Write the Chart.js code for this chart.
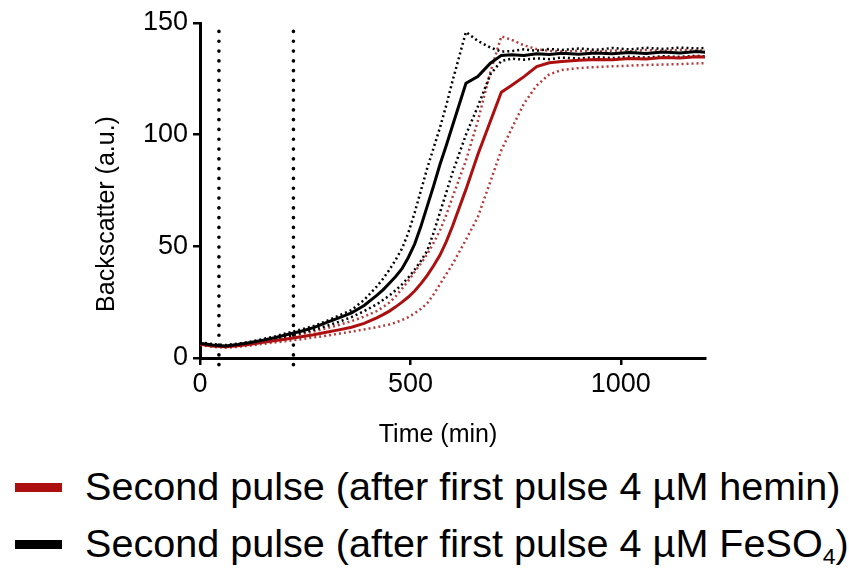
<!DOCTYPE html>
<html>
<head>
<meta charset="utf-8">
<script src="https://cdn.jsdelivr.net/npm/chart.js@4.4.0/dist/chart.umd.min.js"></script>
<style>
  body { margin: 0; background: #fff; font-family: "Liberation Sans", Arial, sans-serif; }
  #wrap { position: relative; width: 849px; height: 570px; }
  #chart { position: absolute; left: 0; top: 0; }
  #legend { position: absolute; left: 0; top: 461px; }
  .item { position: relative; height: 57px; font-size: 39.6px; color: #000; white-space: nowrap; }
  .swatch { position: absolute; left: 15px; top: 22px; width: 47px; height: 9px; }
  .label { position: absolute; left: 85px; top: 3px; }
  .label sub { font-size: 58%; vertical-align: -0.3em; line-height: 0; }
</style>
</head>
<body>
<div id="wrap">
  <canvas id="chart" width="849" height="460"></canvas>
  <div id="legend"></div>
</div>
<script>
// Time points (min)
const times = [0, 30, 60, 90, 120, 150, 180, 210, 240, 270, 300, 330, 360, 390,
  420, 435, 450, 465, 480, 495, 510, 525, 540, 555, 570, 585, 600,
  632, 660, 690, 716, 740, 770, 800, 830, 860, 900, 940, 980, 1020, 1060, 1100, 1140, 1180, 1200];

// FeSO4 first pulse: mean and +/- SD
const feMean = [6.6, 5.8, 5.4, 6.0, 6.9, 8.0, 9.2, 10.6, 12.0, 13.6, 15.8, 18.0, 20.2, 23.5,
  28.0, 30.5, 33.5, 36.5, 40.0, 45.0, 51.0, 59.0, 68.0, 77.0, 86.5, 95.0, 104.0,
  123.0, 126.0, 132.0, 135.5, 135.8, 135.4, 136.2, 135.9, 136.4, 136.0, 136.6, 136.2, 136.8, 136.4, 137.0, 136.6, 137.2, 136.9];
const feUpper = [7.0, 6.2, 5.8, 6.4, 7.3, 8.5, 9.8, 11.3, 12.8, 14.3, 16.5, 19.0, 21.5, 26.0,
  32.0, 35.5, 39.5, 44.0, 49.0, 56.0, 65.0, 75.0, 85.0, 94.0, 103.0, 113.0, 124.0,
  146.0, 142.0, 139.0, 137.2, 137.4, 138.2, 137.6, 138.4, 137.9, 138.6, 138.0, 138.8, 138.2, 138.9, 138.4, 139.0, 138.6, 138.8];
const feLower = [6.2, 5.4, 5.0, 5.6, 6.4, 7.4, 8.6, 9.8, 11.2, 12.6, 14.3, 16.2, 18.3, 21.0,
  24.0, 26.0, 28.0, 30.3, 33.0, 36.0, 39.5, 43.5, 48.0, 56.0, 65.0, 74.0, 83.0,
  100.0, 112.5, 127.0, 133.0, 134.0, 133.6, 134.2, 133.8, 134.5, 134.1, 134.7, 134.3, 134.9, 134.5, 135.1, 134.8, 135.3, 135.0];

// Hemin first pulse: mean and +/- SD
const heMean = [6.2, 5.4, 5.0, 5.5, 6.2, 7.0, 7.8, 8.6, 9.5, 10.4, 11.5, 12.6, 13.8, 15.5,
  18.0, 19.4, 21.0, 22.9, 25.0, 27.3, 30.0, 33.3, 37.0, 41.3, 46.0, 52.0, 59.0,
  75.5, 91.0, 106.0, 119.0, 122.0, 126.0, 130.5, 132.2, 132.8, 133.3, 133.7, 133.5, 134.1, 133.9, 134.5, 134.3, 134.9, 134.8];
const heUpper = [6.6, 5.9, 5.5, 6.0, 6.8, 7.7, 8.6, 9.6, 10.7, 11.9, 13.3, 14.8, 16.5, 18.5,
  21.0, 22.8, 24.8, 27.6, 31.0, 34.6, 38.5, 42.4, 46.5, 51.5, 57.0, 64.0, 72.0,
  88.5, 106.0, 128.0, 144.0, 142.5, 140.0, 138.3, 137.5, 137.2, 137.6, 137.1, 137.7, 137.3, 137.9, 137.5, 138.0, 137.6, 137.8];
const heLower = [5.8, 5.0, 4.6, 5.0, 5.6, 6.3, 7.0, 7.7, 8.4, 9.2, 10.0, 10.9, 11.8, 12.8,
  13.8, 14.4, 15.0, 15.9, 17.0, 18.3, 20.0, 22.0, 24.5, 28.5, 33.0, 37.5, 42.0,
  53.0, 63.0, 79.0, 93.0, 102.5, 114.0, 122.0, 127.0, 129.0, 129.8, 130.3, 130.6, 130.9, 131.2, 131.4, 131.6, 131.9, 132.0];

// Pulse additions (min)
const pulseTimes = [45, 222];

const xTicks = [0, 500, 1000];
const yTicks = [0, 50, 100, 150];

const seriesNames = [
  'Second pulse (after first pulse 4 µM hemin)',
  'Second pulse (after first pulse 4 µM FeSO<sub>4</sub>)'
];

const RED = '#ac0f0f';
const RED_DOT = '#b43c3c';
const BLACK = '#000';
const FONT = '"Liberation Sans", Arial, sans-serif';

const pts = arr => arr.map((v, i) => ({ x: times[i], y: v }));

function line(data, color, width, dash) {
  return {
    data: pts(data),
    borderColor: color,
    borderWidth: width,
    borderDash: dash || [],
    pointRadius: 0,
    tension: 0,
    fill: false
  };
}

// index 0 is drawn on top
const datasets = [
  line(feMean, BLACK, 3),
  line(heMean, RED, 3),
  line(feUpper, BLACK, 2.5, [2, 3]),
  line(feLower, BLACK, 2.5, [2, 3]),
  line(heUpper, RED_DOT, 2.5, [2, 3]),
  line(heLower, RED_DOT, 2.5, [2, 3])
];

pulseTimes.forEach(t => {
  datasets.push({
    data: [{ x: t, y: -3 }, { x: t, y: 150 }],
    borderColor: BLACK,
    borderWidth: 3.6,
    borderDash: [0.1, 9.7],
    borderCapStyle: 'round',
    pointRadius: 0,
    clip: false
  });
});

// axis titles sit a bit off-centre in the original figure
const axisTitles = {
  id: 'axisTitles',
  afterDraw(chart) {
    const { ctx } = chart;
    ctx.save();
    ctx.fillStyle = '#000';
    ctx.font = '25px ' + FONT;
    ctx.textAlign = 'center';
    ctx.textBaseline = 'middle';
    ctx.fillText('Time (min)', 438, 435);
    ctx.translate(107, 214);
    ctx.rotate(-Math.PI / 2);
    ctx.fillText('Backscatter (a.u.)', 0, 0);
    ctx.restore();
  }
};

const axisCommon = {
  type: 'linear',
  border: { display: true, color: '#000', width: 3 },
  grid: { display: true, drawOnChartArea: false, drawTicks: true, tickLength: 7, color: '#000', lineWidth: 2.5 },
  ticks: { color: '#000', font: { family: FONT, size: 27 }, callback: v => String(v) }
};

new Chart(document.getElementById('chart').getContext('2d'), {
  type: 'line',
  data: { datasets },
  options: {
    responsive: false,
    animation: false,
    layout: { padding: { top: 23, right: 144, bottom: 8, left: 88 } },
    plugins: { legend: { display: false }, tooltip: { enabled: false } },
    scales: {
      x: {
        ...axisCommon,
        min: 0,
        max: 1200,
        ticks: { ...axisCommon.ticks, padding: 3 },
        afterBuildTicks: s => { s.ticks = xTicks.map(v => ({ value: v })); },
        afterFit: s => { s.height = 94; }
      },
      y: {
        ...axisCommon,
        min: 0,
        max: 150,
        ticks: { ...axisCommon.ticks, padding: 5 },
        afterBuildTicks: s => { s.ticks = yTicks.map(v => ({ value: v })); },
        afterFit: s => { s.width = 112; }
      }
    }
  },
  plugins: [axisTitles]
});

// Legend below the chart
const legend = document.getElementById('legend');
[RED, BLACK].forEach((c, i) => {
  const item = document.createElement('div');
  item.className = 'item';
  item.innerHTML = '<span class="swatch" style="background:' + c + '"></span><span class="label">' + seriesNames[i] + '</span>';
  legend.appendChild(item);
});
</script>
</body>
</html>
